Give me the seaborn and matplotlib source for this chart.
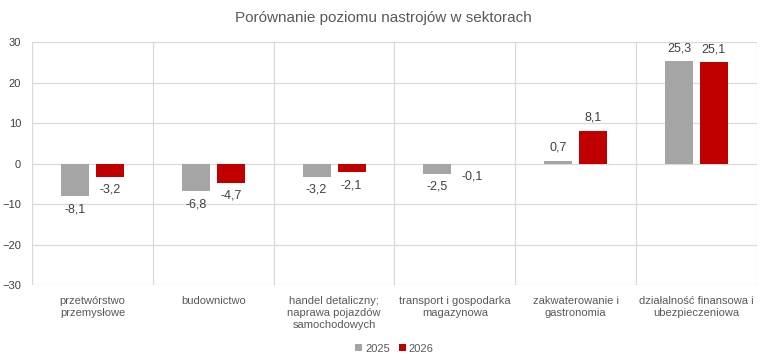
import pandas as pd
import numpy as np
import matplotlib
matplotlib.use("Agg")
import matplotlib.pyplot as plt
import seaborn as sns

sns.set_theme(style="white")
plt.rcParams['font.family'] = ['Liberation Sans', 'DejaVu Sans']

sectors = ["przetwórstwo\nprzemysłowe", "budownictwo",
           "handel detaliczny;\nnaprawa pojazdów\nsamochodowych",
           "transport i gospodarka\nmagazynowa", "zakwaterowanie i\ngastronomia",
           "działalność finansowa i\nubezpieczeniowa"]
v2025 = [-8.1, -6.8, -3.2, -2.5, 0.7, 25.3]
v2026 = [-3.2, -4.7, -2.1, -0.1, 8.1, 25.1]
years = ["2025", "2026"]
colors = ["#A5A5A5", "#C00000"]

df = pd.DataFrame({
    "sektor": sectors * 2,
    "rok": [years[0]] * 6 + [years[1]] * 6,
    "wartosc": v2025 + v2026,
})

fig = plt.figure(figsize=(7.66, 3.6), dpi=100)
ax = fig.add_axes([0.042, 0.208, 0.946, 0.675])

sns.barplot(data=df, x="sektor", y="wartosc", hue="rok", palette=colors,
            saturation=1, linewidth=0, width=0.58, gap=0.2, ax=ax, zorder=3)

ax.set_ylim(-30, 30)
ax.set_xlim(-0.5, 5.5)
ax.set_yticks(np.arange(-30, 31, 10))
for y in np.arange(-30, 31, 10):
    ax.axhline(y, color="#D9D9D9", lw=0.9, zorder=1)
for x in np.arange(-0.5, 6, 1):
    ax.axvline(x, color="#D9D9D9", lw=0.9, zorder=1)

for s in ax.spines.values():
    s.set_visible(False)

# etykiety wartosci
for cont in ax.containers:
    for bar in cont:
        h = bar.get_height()
        xc = bar.get_x() + bar.get_width() / 2
        txt = f"{h:.1f}".replace(".", ",")
        if h >= 0:
            ax.annotate(txt, (xc, h), xytext=(0, 5), textcoords="offset points",
                        ha="center", va="bottom", fontsize=9, color="#404040")
        else:
            ax.annotate(txt, (xc, h), xytext=(0, -5), textcoords="offset points",
                        ha="center", va="top", fontsize=9, color="#404040")

ax.tick_params(axis="x", length=0, pad=8, labelsize=8, labelcolor="#595959")
ax.tick_params(axis="y", length=0, pad=8, labelsize=8, labelcolor="#404040")
for lab in ax.get_xticklabels():
    lab.set_linespacing(1.25)
ax.set_xlabel("")
ax.set_ylabel("")

ax.legend(loc="upper center", bbox_to_anchor=(0.5, -0.2), ncol=2, frameon=False,
          fontsize=8, handlelength=0.6, handleheight=0.6, handletextpad=0.3,
          columnspacing=0.8, labelcolor="#595959")

fig.suptitle("Porównanie poziomu nastrojów w sektorach", x=0.5, y=0.97,
             fontsize=11, color="#595959")

fig.savefig("out.png", dpi=100)
